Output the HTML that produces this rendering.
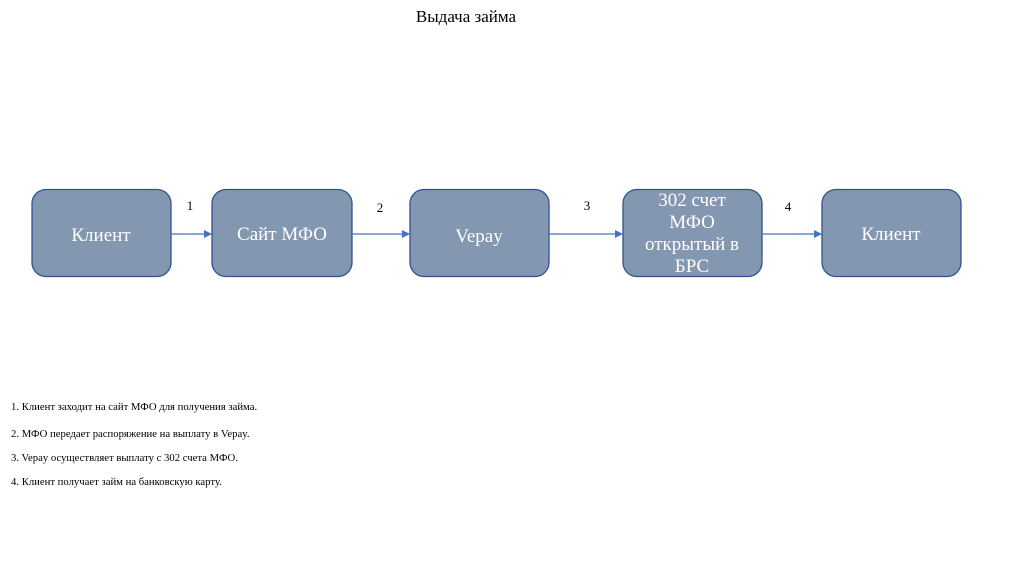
<!DOCTYPE html>
<html><head><meta charset="utf-8"><style>
body{margin:0;width:1024px;height:574px;background:#fff;overflow:hidden;font-family:"Liberation Serif",serif;}
</style></head><body>
<svg width="1024" height="574" xmlns="http://www.w3.org/2000/svg" font-family="Liberation Serif, serif">
<defs><marker id="a" markerWidth="8" markerHeight="8" refX="7" refY="4" orient="auto" markerUnits="userSpaceOnUse"><path d="M0,0 L8,4 L0,8 z" fill="#4472c4"/></marker></defs>
<text x="466" y="22" font-size="17" text-anchor="middle" fill="#000">Выдача займа</text>
<g fill="#8497b0" stroke="#2f528f" stroke-width="1.3">
<rect x="32" y="189.5" width="139" height="87" rx="14"/>
<rect x="212" y="189.5" width="140" height="87" rx="14"/>
<rect x="410" y="189.5" width="139" height="87" rx="14"/>
<rect x="623" y="189.5" width="139" height="87" rx="14"/>
<rect x="822" y="189.5" width="139" height="87" rx="14"/>
</g>
<g stroke="#4472c4" stroke-width="1.2" marker-end="url(#a)">
<line x1="171" y1="234" x2="211" y2="234"/>
<line x1="352" y1="234" x2="409" y2="234"/>
<line x1="549" y1="234" x2="622" y2="234"/>
<line x1="762" y1="234" x2="821" y2="234"/>
</g>
<g fill="#fff" font-size="19" text-anchor="middle">
<text x="101" y="241">Клиент</text>
<text x="282" y="240">Сайт МФО</text>
<text x="479" y="242">Vepay</text>
<text x="692" y="206">302 счет</text>
<text x="692" y="228">МФО</text>
<text x="692" y="250">открытый в</text>
<text x="692" y="272">БРС</text>
<text x="891" y="240">Клиент</text>
</g>
<g font-size="13" text-anchor="middle" fill="#000">
<text x="190" y="210">1</text>
<text x="380" y="212">2</text>
<text x="587" y="210">3</text>
<text x="788" y="211">4</text>
</g>
<g font-size="10.7" fill="#000">
<text x="11" y="410">1. Клиент заходит на сайт МФО для получения займа.</text>
<text x="11" y="437">2. МФО передает распоряжение на выплату в Vepay.</text>
<text x="11" y="461">3. Vepay осуществляет выплату с 302 счета МФО.</text>
<text x="11" y="485">4. Клиент получает займ на банковскую карту.</text>
</g>
</svg>
</body></html>
